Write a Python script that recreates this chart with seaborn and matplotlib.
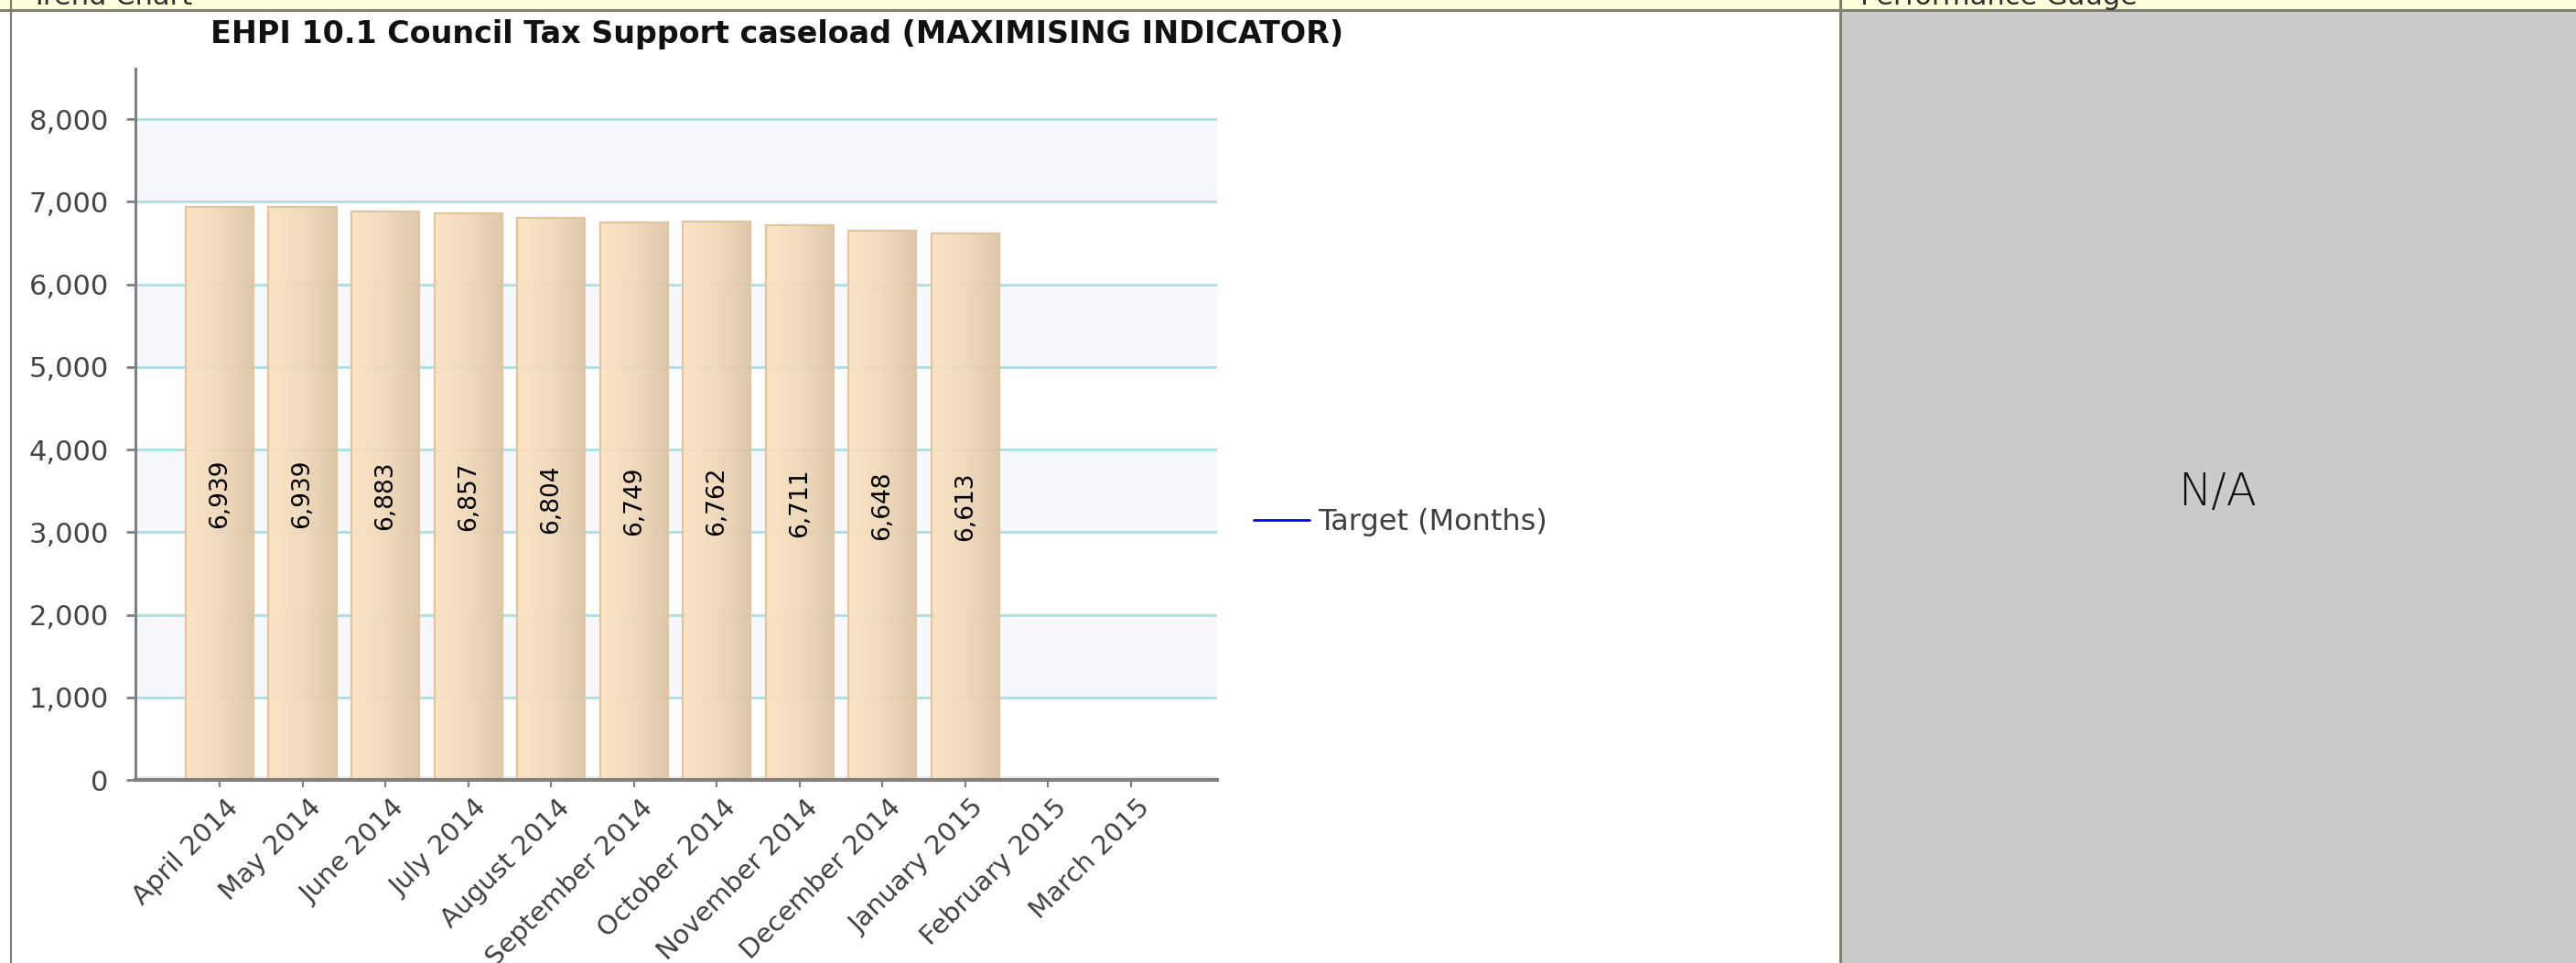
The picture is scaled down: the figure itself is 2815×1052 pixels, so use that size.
import numpy as np
import pandas as pd
import matplotlib.pyplot as plt
import seaborn as sns
from matplotlib.patches import Rectangle
from matplotlib.lines import Line2D
from matplotlib.colors import LinearSegmentedColormap
import matplotlib.transforms as mtransforms

# === Data ===
months = ["April 2014", "May 2014", "June 2014", "July 2014", "August 2014",
          "September 2014", "October 2014", "November 2014", "December 2014",
          "January 2015", "February 2015", "March 2015"]
caseload_months = months[:10]
caseload = [6939, 6939, 6883, 6857, 6804, 6749, 6762, 6711, 6648, 6613]
y_ticks = [0, 1000, 2000, 3000, 4000, 5000, 6000, 7000, 8000]

df = pd.DataFrame({"Month": caseload_months, "Caseload": caseload})

# === Figure / page frame ===
sns.set_theme(style="white")
plt.rcParams["font.family"] = ["DejaVu Sans"]

W, H = 2815, 1052
fig = plt.figure(figsize=(W / 100, H / 100), dpi=100)
fig.patch.set_facecolor("white")

border = "#808070"
fig.add_artist(Rectangle((0, 1 - 11 / H), 1, 11 / H, transform=fig.transFigure,
                         facecolor="#FFFFDC", edgecolor="none", zorder=0))
fig.add_artist(Rectangle((2013 / W, 0), 1 - 2013 / W, 1 - 12 / H, transform=fig.transFigure,
                         facecolor="#CBCBCB", edgecolor="none", zorder=0))
fig.add_artist(Line2D([0, 1], [1 - 11 / H] * 2, transform=fig.transFigure, color=border, lw=2.2))
fig.add_artist(Line2D([12 / W] * 2, [0, 1], transform=fig.transFigure, color=border, lw=1.6))
fig.add_artist(Line2D([2011 / W] * 2, [0, 1], transform=fig.transFigure, color=border, lw=2.2))

fig.text(33 / W, 1 - 5 / H, "Trend Chart", fontsize=22, color="#303030", va="baseline")
fig.text(2033 / W, 1 - 5 / H, "Performance Gauge", fontsize=22, color="#303030", va="baseline")
fig.text(2423 / W, 1 - 538 / H, "N/A", fontsize=35, color="#111111",
         ha="center", va="center", fontweight="light")

fig.text(230 / W, 1 - 37 / H, "EHPI 10.1 Council Tax Support caseload (MAXIMISING INDICATOR)",
         fontsize=24, fontweight="bold", color="#111111", ha="left", va="center")

# === Chart ===
ax = fig.add_axes([148 / W, 1 - 852 / H, (1330 - 148) / W, (852 - 75) / H])

sns.barplot(data=df, x="Month", y="Caseload", order=months, ax=ax, width=0.82,
            color="#F3D9B8", edgecolor="#E2C59E", linewidth=1.6, errorbar=None,
            zorder=3)

# gradient fill on each bar
grad = LinearSegmentedColormap.from_list("bar", ["#FCE3C1", "#F0D8B9", "#DCC4A5"])
gimg = np.linspace(0, 1, 64).reshape(1, -1)
for p in ax.patches:
    x0, w, h = p.get_x(), p.get_width(), p.get_height()
    if not np.isfinite(h) or h == 0:
        continue
    p.set_facecolor("none")
    p.set_zorder(4)
    im = ax.imshow(gimg, cmap=grad, extent=[x0, x0 + w, 0, h], aspect="auto",
                   alpha=0.93, zorder=3, interpolation="bilinear")
    im.set_clip_path(p)

# value labels inside bars
for i, v in enumerate(caseload):
    ax.text(i, v / 2, f"{v:,}", rotation=90, ha="center", va="center",
            fontsize=19, color="black", zorder=5)

ax.set_xlim(-1.017, 12.04)
ax.set_ylim(0, 8610)
ax.set_yticks(y_ticks)
ax.set_yticklabels([f"{t:,}" for t in y_ticks])

# alternating bands + grid
for lo in [1000, 3000, 5000, 7000]:
    ax.axhspan(lo, lo + 1000, color="#F7F8FD", zorder=0, lw=0)
ax.axhspan(0, 45, color="#EEEEEE", zorder=0.5, lw=0)
ax.yaxis.grid(True, color="#B0DFE5", lw=2.2, zorder=1)
ax.xaxis.grid(False)
ax.set_axisbelow(True)

for s in ["top", "right"]:
    ax.spines[s].set_visible(False)
ax.spines["left"].set_color("#808080")
ax.spines["left"].set_linewidth(2.2)
ax.spines["bottom"].set_color("#808080")
ax.spines["bottom"].set_linewidth(3)
ax.spines["bottom"].set_zorder(6)

ax.tick_params(axis="y", length=7, width=2, color="#808080", labelsize=22,
               labelcolor="#454545", pad=14, left=True)
ax.tick_params(axis="x", length=6, width=1.6, color="#808080", labelsize=21,
               labelcolor="#404040", pad=4, bottom=True)

ax.set_xlabel("")
ax.set_ylabel("")
offset = mtransforms.ScaledTranslation(16 / 100, -12 / 100, fig.dpi_scale_trans)
for lab in ax.get_xticklabels():
    lab.set_rotation(45)
    lab.set_ha("right")
    lab.set_va("center")
    lab.set_rotation_mode("anchor")
    lab.set_transform(lab.get_transform() + offset)

# legend for the (empty) target series
ax.plot([], [], color="#0000FF", lw=2, label="Target (Months)")
ax.legend(loc="center left", bbox_to_anchor=(1370 / W, 1 - 571 / H),
          bbox_transform=fig.transFigure, frameon=False, fontsize=23,
          handlelength=1.9, handletextpad=0.3, labelcolor="#404040",
          borderpad=0, borderaxespad=0)

fig.savefig("out.png", dpi=100)
